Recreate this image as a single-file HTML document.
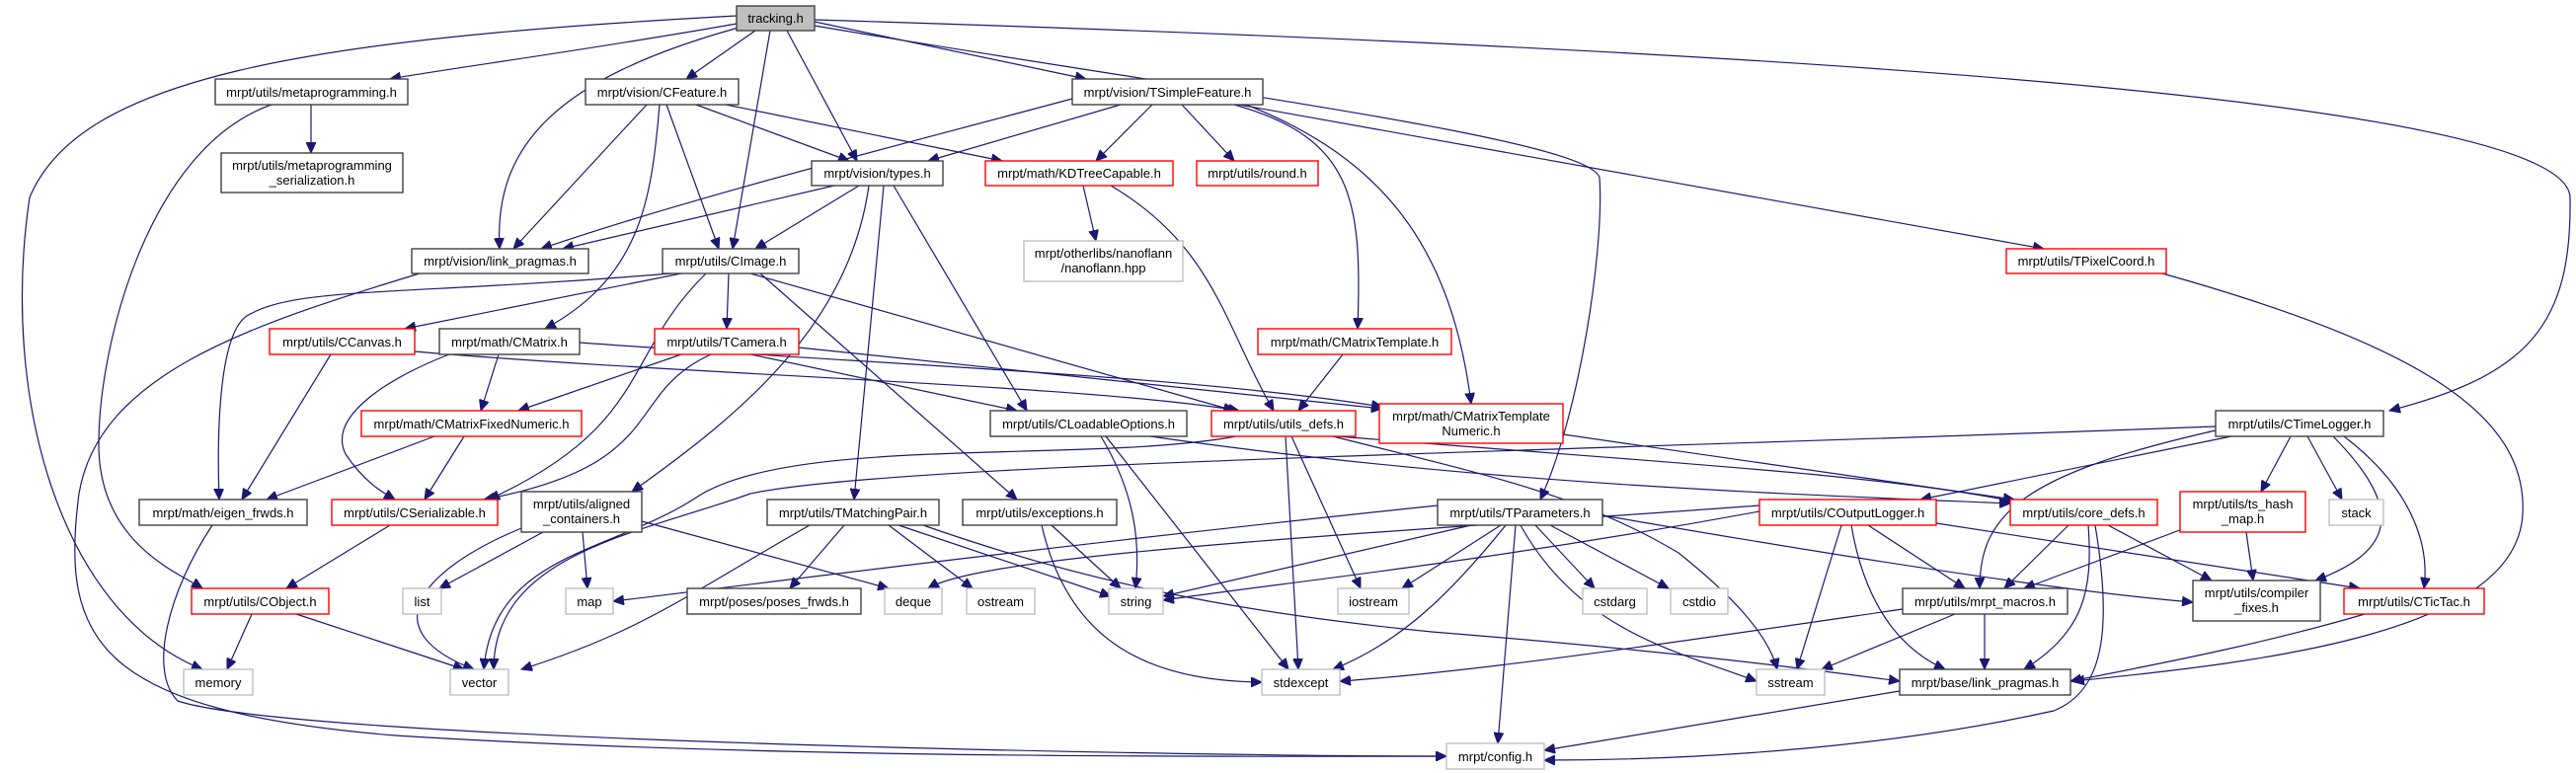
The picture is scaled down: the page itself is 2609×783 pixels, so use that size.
<!DOCTYPE html>
<html><head><meta charset="utf-8"><style>
html,body{margin:0;padding:0;background:#fff;}
svg{display:block;}
text{font-family:"Liberation Sans",sans-serif;font-size:13px;fill:#000;}
.b{fill:#fff;stroke:#404040;stroke-width:1.4}
.r{fill:#fff;stroke:#ff0000;stroke-width:1.4}
.g{fill:#fff;stroke:#bfbfbf;stroke-width:1.4}
.t{fill:#bfbfbf;stroke:#404040;stroke-width:1.4}
path{fill:none;stroke:#191970;stroke-width:1.2}
</style></head><body>
<svg width="2609" height="783" viewBox="0 0 2609 783" xmlns="http://www.w3.org/2000/svg">
<defs><marker id="a" markerWidth="12" markerHeight="10" refX="11" refY="5" orient="auto" markerUnits="userSpaceOnUse"><polygon points="0,0 11,5 0,10" fill="#191970" stroke="#191970"/></marker></defs>
<g marker-end="url(#a)">
<path d="M746,16 C300,40 80,80 30,200 C0,400 60,620 205,678"/>
<path d="M746,24 C600,50 450,70 395,80"/>
<path d="M748,28 C560,80 500,150 506,252"/>
<path d="M765,31 L695,80"/>
<path d="M780,31 L742,252"/>
<path d="M797,31 L868,163"/>
<path d="M825,22 L1100,80"/>
<path d="M825,26 C1200,90 1610,140 1620,180 C1625,250 1600,420 1560,506"/>
<path d="M825,20 C1800,50 2600,100 2603,200 C2605,330 2560,380 2420,416"/>
<path d="M2190,277 C2450,350 2560,420 2555,520 C2550,640 2300,670 2100,690"/>
<path d="M315,106 L315,155"/>
<path d="M275,106 C150,150 100,350 100,450 C100,550 180,580 205,596"/>
<path d="M655,106 L520,252"/>
<path d="M675,106 L728,252"/>
<path d="M705,106 L860,163"/>
<path d="M735,106 L1015,163"/>
<path d="M668,106 C660,200 650,280 552,333"/>
<path d="M1086,100 C900,150 700,200 548,252"/>
<path d="M1135,106 L940,163"/>
<path d="M1167,106 L1110,163"/>
<path d="M1197,106 L1250,163"/>
<path d="M1250,106 C1370,140 1380,200 1375,333"/>
<path d="M1262,106 C1400,160 1470,250 1490,409"/>
<path d="M1255,106 L2070,252"/>
<path d="M845,188 L570,252"/>
<path d="M870,188 L765,252"/>
<path d="M880,188 C860,330 750,420 640,498"/>
<path d="M895,188 L865,506"/>
<path d="M905,188 L1040,416"/>
<path d="M1097,188 L1110,244"/>
<path d="M1125,188 C1230,250 1240,330 1290,416"/>
<path d="M425,277 C250,330 100,380 80,500 C60,650 100,720 400,745 C800,770 1300,766 1465,766"/>
<path d="M215,532 C170,600 150,680 180,710 C300,750 1200,766 1465,766"/>
<path d="M690,277 L410,333"/>
<path d="M738,277 L736,333"/>
<path d="M680,277 C400,300 300,290 250,320 C220,340 220,450 222,506"/>
<path d="M715,277 C630,360 660,430 495,506"/>
<path d="M760,277 L1250,416"/>
<path d="M770,277 L1030,506"/>
<path d="M335,359 L245,506"/>
<path d="M420,356 C700,380 1100,390 1255,416"/>
<path d="M505,359 L487,416"/>
<path d="M455,359 C400,380 330,420 350,460 C370,490 390,500 400,506"/>
<path d="M587,347 C900,370 1200,380 1400,412"/>
<path d="M690,359 L525,416"/>
<path d="M720,359 C630,400 680,470 490,506"/>
<path d="M760,359 L1030,416"/>
<path d="M809,352 L1400,414"/>
<path d="M1360,359 L1315,416"/>
<path d="M440,442 L270,506"/>
<path d="M470,442 L430,506"/>
<path d="M395,532 L290,596"/>
<path d="M255,622 L230,678"/>
<path d="M300,622 L470,678"/>
<path d="M550,539 L445,596"/>
<path d="M590,539 L595,596"/>
<path d="M528,535 C420,580 380,640 480,678"/>
<path d="M650,528 L900,596"/>
<path d="M855,532 L800,596"/>
<path d="M820,532 C700,600 650,640 528,678"/>
<path d="M910,532 L1125,604"/>
<path d="M900,532 L985,596"/>
<path d="M935,532 C1100,590 1250,620 1450,640 C1700,660 1850,680 1924,690"/>
<path d="M1065,532 L1135,596"/>
<path d="M1055,532 C1080,640 1150,690 1278,691"/>
<path d="M1115,442 C1150,500 1155,550 1150,596"/>
<path d="M1120,442 L1305,678"/>
<path d="M1165,442 C1500,490 1800,500 2036,510"/>
<path d="M1252,442 C1100,470 800,440 705,504 C620,560 500,560 490,678"/>
<path d="M2244,432 C1500,460 900,470 760,500 C650,540 500,560 500,678"/>
<path d="M1302,442 L1315,678"/>
<path d="M1308,442 L1378,596"/>
<path d="M1350,442 C1500,480 1600,500 1700,560 C1750,600 1790,640 1800,678"/>
<path d="M1355,442 C1700,470 1900,480 2040,508"/>
<path d="M1583,440 L2040,506"/>
<path d="M1456,512 C1000,560 700,600 621,609"/>
<path d="M1490,532 L1178,604"/>
<path d="M1520,532 L1420,596"/>
<path d="M1525,532 C1470,600 1420,650 1350,678"/>
<path d="M1535,532 L1517,753"/>
<path d="M1540,532 C1600,640 1700,660 1779,690"/>
<path d="M1555,532 L1615,596"/>
<path d="M1570,532 L1690,596"/>
<path d="M1623,522 C1900,570 2100,600 2221,610"/>
<path d="M2260,442 L1945,506"/>
<path d="M2244,436 C2050,480 2005,520 2005,596"/>
<path d="M2320,442 L2290,498"/>
<path d="M2337,442 L2372,506"/>
<path d="M2363,442 C2440,520 2420,560 2345,588"/>
<path d="M2374,442 C2450,500 2460,560 2455,596"/>
<path d="M1782,512 C1400,540 1000,560 940,596"/>
<path d="M1782,518 C1500,570 1300,590 1178,608"/>
<path d="M1865,532 L1820,678"/>
<path d="M1892,532 L1990,596"/>
<path d="M1875,532 C1890,620 1930,660 1970,678"/>
<path d="M1961,530 L2390,596"/>
<path d="M2095,532 L2030,596"/>
<path d="M2135,532 L2240,588"/>
<path d="M2115,532 C2120,600 2110,640 2050,678"/>
<path d="M2122,532 C2140,640 2130,700 2080,720 C1900,760 1700,770 1564,770"/>
<path d="M2213,535 L2050,596"/>
<path d="M2275,539 L2282,588"/>
<path d="M1980,622 L1845,678"/>
<path d="M2010,622 L2010,678"/>
<path d="M1927,617 C1700,650 1500,680 1357,690"/>
<path d="M2395,622 C2300,650 2200,670 2097,690"/>
<path d="M1924,700 L1564,760"/>
</g>
<g>
<rect class="t" x="746" y="6" width="79" height="25"/><text x="785.5" y="23" text-anchor="middle">tracking.h</text>
<rect class="b" x="218" y="80" width="195" height="26"/><text x="315.5" y="98" text-anchor="middle">mrpt/utils/metaprogramming.h</text>
<rect class="b" x="224" y="155" width="184" height="40"/><text x="316" y="172" text-anchor="middle">mrpt/utils/metaprogramming</text><text x="316" y="187" text-anchor="middle">_serialization.h</text>
<rect class="b" x="593" y="80" width="155" height="26"/><text x="670.5" y="98" text-anchor="middle">mrpt/vision/CFeature.h</text>
<rect class="b" x="1086" y="80" width="193" height="26"/><text x="1182.5" y="98" text-anchor="middle">mrpt/vision/TSimpleFeature.h</text>
<rect class="b" x="822" y="163" width="133" height="25"/><text x="888.5" y="180" text-anchor="middle">mrpt/vision/types.h</text>
<rect class="r" x="998" y="163" width="190" height="25"/><text x="1093" y="180" text-anchor="middle">mrpt/math/KDTreeCapable.h</text>
<rect class="r" x="1212" y="163" width="123" height="25"/><text x="1273.5" y="180" text-anchor="middle">mrpt/utils/round.h</text>
<rect class="g" x="1037" y="244" width="161" height="41"/><text x="1117.5" y="261" text-anchor="middle">mrpt/otherlibs/nanoflann</text><text x="1117.5" y="276" text-anchor="middle">/nanoflann.hpp</text>
<rect class="b" x="417" y="252" width="179" height="25"/><text x="506.5" y="269" text-anchor="middle">mrpt/vision/link_pragmas.h</text>
<rect class="b" x="671" y="252" width="138" height="25"/><text x="740" y="269" text-anchor="middle">mrpt/utils/CImage.h</text>
<rect class="r" x="2032" y="252" width="162" height="25"/><text x="2113" y="269" text-anchor="middle">mrpt/utils/TPixelCoord.h</text>
<rect class="r" x="273" y="333" width="147" height="26"/><text x="346.5" y="351" text-anchor="middle">mrpt/utils/CCanvas.h</text>
<rect class="b" x="445" y="333" width="142" height="26"/><text x="516" y="351" text-anchor="middle">mrpt/math/CMatrix.h</text>
<rect class="r" x="663" y="333" width="146" height="26"/><text x="736" y="351" text-anchor="middle">mrpt/utils/TCamera.h</text>
<rect class="r" x="1274" y="333" width="196" height="26"/><text x="1372" y="351" text-anchor="middle">mrpt/math/CMatrixTemplate.h</text>
<rect class="r" x="366" y="416" width="223" height="26"/><text x="477.5" y="434" text-anchor="middle">mrpt/math/CMatrixFixedNumeric.h</text>
<rect class="b" x="1003" y="416" width="199" height="26"/><text x="1102.5" y="434" text-anchor="middle">mrpt/utils/CLoadableOptions.h</text>
<rect class="r" x="1227" y="416" width="146" height="26"/><text x="1300" y="434" text-anchor="middle">mrpt/utils/utils_defs.h</text>
<rect class="r" x="1397" y="409" width="186" height="40"/><text x="1490" y="426" text-anchor="middle">mrpt/math/CMatrixTemplate</text><text x="1490" y="441" text-anchor="middle">Numeric.h</text>
<rect class="b" x="2244" y="416" width="170" height="26"/><text x="2329" y="434" text-anchor="middle">mrpt/utils/CTimeLogger.h</text>
<rect class="b" x="141" y="506" width="170" height="26"/><text x="226" y="524" text-anchor="middle">mrpt/math/eigen_frwds.h</text>
<rect class="r" x="336" y="506" width="168" height="26"/><text x="420" y="524" text-anchor="middle">mrpt/utils/CSerializable.h</text>
<rect class="b" x="528" y="498" width="122" height="41"/><text x="589" y="515" text-anchor="middle">mrpt/utils/aligned</text><text x="589" y="530" text-anchor="middle">_containers.h</text>
<rect class="b" x="777" y="506" width="174" height="26"/><text x="864" y="524" text-anchor="middle">mrpt/utils/TMatchingPair.h</text>
<rect class="b" x="975" y="506" width="156" height="26"/><text x="1053" y="524" text-anchor="middle">mrpt/utils/exceptions.h</text>
<rect class="b" x="1456" y="506" width="167" height="26"/><text x="1539.5" y="524" text-anchor="middle">mrpt/utils/TParameters.h</text>
<rect class="r" x="1782" y="506" width="179" height="26"/><text x="1871.5" y="524" text-anchor="middle">mrpt/utils/COutputLogger.h</text>
<rect class="r" x="2036" y="506" width="149" height="26"/><text x="2110.5" y="524" text-anchor="middle">mrpt/utils/core_defs.h</text>
<rect class="r" x="2208" y="498" width="127" height="41"/><text x="2271.5" y="515" text-anchor="middle">mrpt/utils/ts_hash</text><text x="2271.5" y="530" text-anchor="middle">_map.h</text>
<rect class="g" x="2359" y="506" width="55" height="26"/><text x="2386.5" y="524" text-anchor="middle">stack</text>
<rect class="r" x="194" y="596" width="139" height="26"/><text x="263.5" y="614" text-anchor="middle">mrpt/utils/CObject.h</text>
<rect class="g" x="408" y="596" width="39" height="26"/><text x="427.5" y="614" text-anchor="middle">list</text>
<rect class="g" x="573" y="596" width="48" height="26"/><text x="597" y="614" text-anchor="middle">map</text>
<rect class="b" x="696" y="596" width="176" height="26"/><text x="784" y="614" text-anchor="middle">mrpt/poses/poses_frwds.h</text>
<rect class="g" x="896" y="596" width="58" height="26"/><text x="925" y="614" text-anchor="middle">deque</text>
<rect class="g" x="979" y="596" width="69" height="26"/><text x="1013.5" y="614" text-anchor="middle">ostream</text>
<rect class="g" x="1123" y="596" width="55" height="26"/><text x="1150.5" y="614" text-anchor="middle">string</text>
<rect class="g" x="1355" y="596" width="72" height="26"/><text x="1391" y="614" text-anchor="middle">iostream</text>
<rect class="g" x="1603" y="596" width="65" height="26"/><text x="1635.5" y="614" text-anchor="middle">cstdarg</text>
<rect class="g" x="1692" y="596" width="58" height="26"/><text x="1721" y="614" text-anchor="middle">cstdio</text>
<rect class="b" x="1927" y="596" width="167" height="26"/><text x="2010.5" y="614" text-anchor="middle">mrpt/utils/mrpt_macros.h</text>
<rect class="b" x="2221" y="588" width="129" height="41"/><text x="2285.5" y="605" text-anchor="middle">mrpt/utils/compiler</text><text x="2285.5" y="620" text-anchor="middle">_fixes.h</text>
<rect class="r" x="2374" y="596" width="142" height="26"/><text x="2445" y="614" text-anchor="middle">mrpt/utils/CTicTac.h</text>
<rect class="g" x="186" y="678" width="70" height="26"/><text x="221" y="696" text-anchor="middle">memory</text>
<rect class="g" x="456" y="678" width="59" height="26"/><text x="485.5" y="696" text-anchor="middle">vector</text>
<rect class="g" x="1278" y="678" width="79" height="26"/><text x="1317.5" y="696" text-anchor="middle">stdexcept</text>
<rect class="g" x="1779" y="678" width="69" height="26"/><text x="1813.5" y="696" text-anchor="middle">sstream</text>
<rect class="b" x="1924" y="678" width="173" height="26"/><text x="2010.5" y="696" text-anchor="middle">mrpt/base/link_pragmas.h</text>
<rect class="g" x="1465" y="753" width="99" height="26"/><text x="1514.5" y="771" text-anchor="middle">mrpt/config.h</text>
</g>
</svg>
</body></html>
